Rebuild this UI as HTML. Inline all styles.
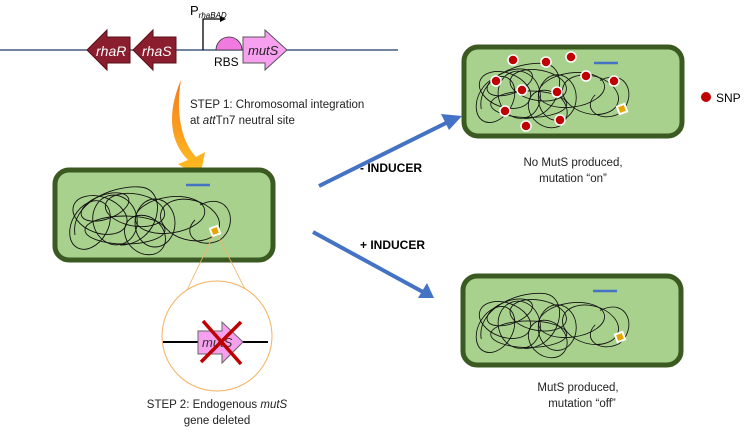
<!DOCTYPE html>
<html><head><meta charset="utf-8"><style>
body{margin:0;background:#fff}
svg{display:block;font-family:"Liberation Sans",sans-serif}
</style></head><body>
<svg width="750" height="434" viewBox="0 0 750 434">
<defs>
<linearGradient id="og" x1="0" y1="0" x2="0" y2="1"><stop offset="0" stop-color="#f57a20"/><stop offset="1" stop-color="#ffc020"/></linearGradient>
<g id="scr" fill="none" stroke="#111" stroke-width="0.9">
<ellipse cx="0" cy="0" rx="28" ry="18" transform="rotate(20)"/>
<ellipse cx="15" cy="5" rx="22" ry="25" transform="rotate(-15 15 5)"/>
<ellipse cx="35" cy="-5" rx="30" ry="16" transform="rotate(10 35 -5)"/>
<ellipse cx="55" cy="8" rx="20" ry="24"/>
<ellipse cx="-10" cy="10" rx="18" ry="26" transform="rotate(30 -10 10)"/>
<ellipse cx="70" cy="0" rx="35" ry="18" transform="rotate(-8 70 0)"/>
<ellipse cx="25" cy="15" rx="40" ry="14"/>
<ellipse cx="90" cy="5" rx="30" ry="20" transform="rotate(15 90 5)"/>
<ellipse cx="5" cy="-8" rx="25" ry="12" transform="rotate(-20 5 -8)"/>
<ellipse cx="45" cy="20" rx="22" ry="18" transform="rotate(40 45 20)"/>
<path d="M100 -10 C130 -25 140 10 120 25 C100 35 80 20 95 5"/>
<path d="M-25 20 C-30 -10 10 -30 40 -28 C70 -26 60 30 20 30"/>
</g>
</defs>
<!-- top construct -->
<line x1="0" y1="50" x2="398" y2="50" stroke="#1f3a6b" stroke-width="1.3"/>
<polygon points="130,37 107,37 107,30 87,50 107,70 107,63 130,63" fill="#8b1e2e" stroke="#5a0f18"/>
<polygon points="176,37 153,37 153,30 133,50 153,70 153,63 176,63" fill="#8b1e2e" stroke="#5a0f18"/>
<text x="96" y="56" font-size="14" font-style="italic" fill="#fff">rhaR</text>
<text x="142" y="56" font-size="14" font-style="italic" fill="#fff">rhaS</text>
<path d="M203 50 V19 H220" stroke="#000" stroke-width="1.3" fill="none"/>
<polygon points="220,16 226,19 220,22" fill="#000"/>
<text x="190" y="15" font-size="13">P<tspan font-size="8" font-style="italic" dy="3">rhaBAD</tspan></text>
<path d="M216 50 A13 13 0 0 1 242 50 Z" fill="#f07ae0" stroke="#333" stroke-width="0.8"/>
<polygon points="243,37 265,37 265,30 287,50 265,70 265,63 243,63" fill="#f7a0ef" stroke="#555"/>
<text x="248" y="55" font-size="13" font-style="italic" fill="#222">mutS</text>
<text x="214" y="66" font-size="12">RBS</text>
<!-- orange arrow -->
<path d="M181 80 C168 110 168 140 188 160 L178 164 L200 178 L205 152 L196 157 C180 140 176 110 181 80 Z" fill="url(#og)"/>
<text x="190" y="108" font-size="11.5" fill="#222">STEP 1: Chromosomal integration</text>
<text x="190" y="124" font-size="11.5" fill="#222">at <tspan font-style="italic">att</tspan>Tn7 neutral site</text>
<!-- left cell -->
<rect x="55" y="170" width="218" height="90" rx="14" fill="#a9d18e" stroke="#3b5a22" stroke-width="5"/>
<use href="#scr" transform="translate(100,215)"/>
<line x1="186" y1="185" x2="210" y2="185" stroke="#4472c4" stroke-width="2.5"/>
<rect x="211" y="227" width="8" height="8" fill="#e5a400" stroke="#fff" stroke-width="2" transform="rotate(-20 215 231)"/>
<line x1="213" y1="236" x2="163" y2="340" stroke="#f5b060" stroke-width="0.8"/>
<line x1="218" y1="236" x2="271" y2="340" stroke="#f5b060" stroke-width="0.8"/>
<circle cx="217" cy="336" r="55" fill="#fff" stroke="#f5b060" stroke-width="1"/>
<line x1="163" y1="342" x2="268" y2="342" stroke="#000" stroke-width="2"/>
<polygon points="198,331 222,331 222,322 243,342 222,363 222,354 198,354" fill="#f7a0ef" stroke="#666"/>
<text x="202" y="347" font-size="13" font-style="italic" fill="#333">mutS</text>
<line x1="203" y1="321" x2="241" y2="364" stroke="#c00000" stroke-width="3.5"/>
<line x1="241" y1="322" x2="201" y2="362" stroke="#c00000" stroke-width="3.5"/>
<text x="217" y="408" font-size="11.5" text-anchor="middle" fill="#222">STEP 2: Endogenous <tspan font-style="italic">mutS</tspan></text>
<text x="217" y="424" font-size="11.5" text-anchor="middle" fill="#222">gene deleted</text>
<!-- arrows -->
<line x1="319" y1="186" x2="448" y2="122" stroke="#4472c4" stroke-width="4"/>
<polygon points="462,116 441,114 449,130" fill="#4472c4"/>
<text x="360" y="172" font-size="12" font-weight="bold">- INDUCER</text>
<line x1="313" y1="232" x2="423" y2="292" stroke="#4472c4" stroke-width="4"/>
<polygon points="434,298 418,298 427,283" fill="#4472c4"/>
<text x="360" y="249" font-size="12" font-weight="bold">+ INDUCER</text>
<!-- top right cell -->
<rect x="464" y="47" width="218" height="89" rx="14" fill="#a9d18e" stroke="#3b5a22" stroke-width="5"/>
<use href="#scr" transform="translate(505,90) scale(0.95)"/>
<line x1="594" y1="63" x2="618" y2="63" stroke="#4472c4" stroke-width="2.5"/>
<rect x="618" y="105" width="8" height="8" fill="#e5a400" stroke="#fff" stroke-width="2" transform="rotate(-20 622 109)"/>
<g fill="#c00000" stroke="#fff" stroke-width="1.5">
<circle cx="513" cy="60" r="5"/><circle cx="546" cy="62" r="5"/><circle cx="571" cy="57" r="5"/>
<circle cx="496" cy="81" r="5"/><circle cx="586" cy="76" r="5"/><circle cx="614" cy="81" r="5"/>
<circle cx="522" cy="90" r="5"/><circle cx="557" cy="92" r="5"/>
<circle cx="505" cy="111" r="5"/><circle cx="560" cy="120" r="5"/><circle cx="526" cy="126" r="5"/>
</g>
<circle cx="706" cy="97" r="5" fill="#c00000"/>
<text x="716" y="102" font-size="12">SNP</text>
<text x="573" y="166" font-size="11.5" text-anchor="middle" fill="#222">No MutS produced,</text>
<text x="573" y="182" font-size="11.5" text-anchor="middle" fill="#222">mutation “on”</text>
<!-- bottom right cell -->
<rect x="463" y="276" width="218" height="89" rx="14" fill="#a9d18e" stroke="#3b5a22" stroke-width="5"/>
<use href="#scr" transform="translate(505,320) scale(0.95)"/>
<line x1="593" y1="291" x2="617" y2="291" stroke="#4472c4" stroke-width="2.5"/>
<rect x="616" y="333" width="8" height="8" fill="#e5a400" stroke="#fff" stroke-width="2" transform="rotate(-20 620 337)"/>
<text x="578" y="391" font-size="11.5" text-anchor="middle" fill="#222">MutS produced,</text>
<text x="582" y="407" font-size="11.5" text-anchor="middle" fill="#222">mutation “off”</text>
</svg>
</body></html>
